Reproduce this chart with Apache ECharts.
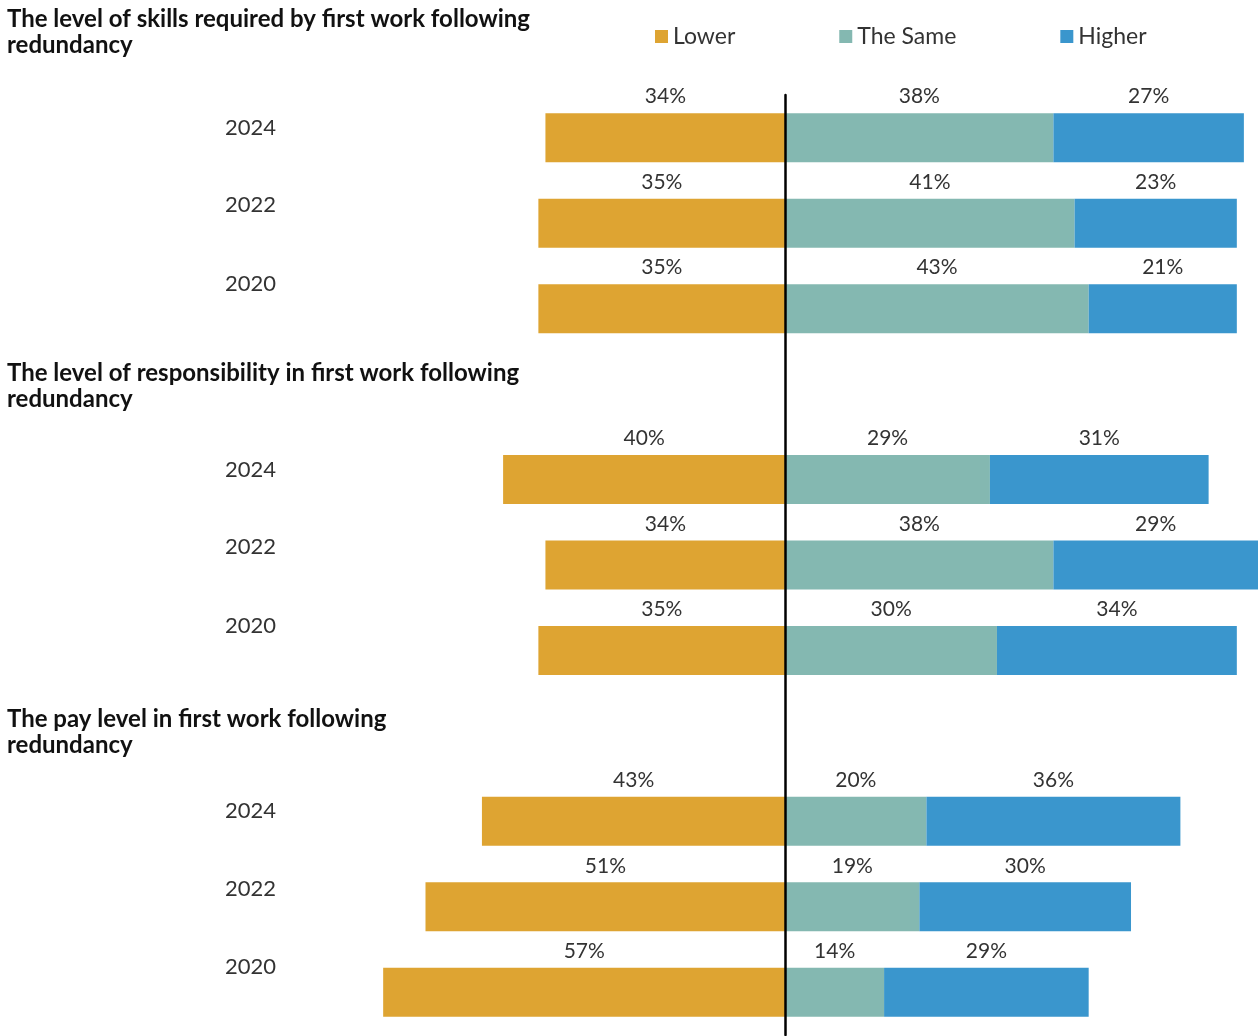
<!DOCTYPE html>
<html>
<head>
<meta charset="utf-8">
<script src="https://cdn.jsdelivr.net/npm/echarts@6/dist/echarts.min.js"></script>
<style>
  html, body { margin: 0; padding: 0; background: #ffffff; }
  #chart { width: 1258px; height: 1036px; }
</style>
</head>
<body>
<div id="chart"></div>
<script>
// Survey years, shown top to bottom in each block
const years = ['2024', '2022', '2020'];

// Block headings
const sectionTitles = [
  'The level of skills required by first work following\nredundancy',
  'The level of responsibility in first work following\nredundancy',
  'The pay level in first work following\nredundancy'
];

const seriesNames = ['Lower', 'The Same', 'Higher'];

// Skills required (2024, 2022, 2020)
const skillsLower  = [34, 35, 35];
const skillsSame   = [38, 41, 43];
const skillsHigher = [27, 23, 21];

// Responsibility (2024, 2022, 2020)
const respLower  = [40, 34, 35];
const respSame   = [29, 38, 30];
const respHigher = [31, 29, 34];

// Pay level (2024, 2022, 2020)
const payLower  = [43, 51, 57];
const paySame   = [20, 19, 14];
const payHigher = [36, 30, 29];

const sections = [
  { key: 'skills', lower: skillsLower, same: skillsSame, higher: skillsHigher },
  { key: 'resp',   lower: respLower,   same: respSame,   higher: respHigher },
  { key: 'pay',    lower: payLower,    same: paySame,    higher: payHigher }
];

// One category per bar row, with an empty spacer row between blocks
const categories = [];
const lowerData = [], sameData = [], higherData = [];
sections.forEach((s, si) => {
  if (si > 0) {
    categories.push('gap' + si);
    lowerData.push('-'); sameData.push('-'); higherData.push('-');
  }
  years.forEach((y, yi) => {
    categories.push(s.key + '|' + y);
    lowerData.push(-s.lower[yi]);
    sameData.push(s.same[yi]);
    higherData.push(s.higher[yi]);
  });
});

const colors = ['#DEA432', '#84B8B1', '#3A96CD'];
const FONT = 'Lato, "Noto Sans", sans-serif';
const TEXT = '#333333';

const chart = echarts.init(document.getElementById('chart'), null, { renderer: 'canvas' });

const barLabel = {
  show: true,
  position: 'top',
  distance: 6,
  color: TEXT,
  fontFamily: FONT,
  fontSize: 21,
  formatter: p => Math.abs(p.value) + '%'
};

// Year labels sit a little above their bar centre, more so further down a block
const yearLift = [10, 18, 25];
const yearRich = {};
yearLift.forEach((d, i) => {
  yearRich['r' + i] = { fontFamily: FONT, fontSize: 22, color: TEXT, padding: [0, 0, 2 * d, 0] };
});

const option = {
  backgroundColor: '#ffffff',
  animation: false,
  color: colors,
  title: sectionTitles.map((t, i) => ({
    text: t,
    left: 2,
    top: [1, 355, 701][i],
    textStyle: { fontFamily: FONT, fontWeight: 'bold', fontSize: 24, lineHeight: 26, color: '#111111' }
  })),
  legend: {
    data: seriesNames,
    left: 650,
    top: 20,
    icon: 'rect',
    itemWidth: 13,
    itemHeight: 13,
    itemGap: 104,
    textStyle: { fontFamily: FONT, fontSize: 23, color: TEXT }
  },
  grid: { left: 362, width: 900, top: 95, height: 940 },
  xAxis: {
    type: 'value',
    min: -60,
    max: 67,
    show: false
  },
  yAxis: {
    type: 'category',
    inverse: true,
    data: categories,
    z: 10,
    axisLine: { show: true, onZero: true, lineStyle: { color: '#000000', width: 2.5 } },
    axisTick: { show: false },
    axisLabel: {
      margin: 86,
      formatter: (val) => {
        if (val.indexOf('|') < 0) return '';
        const y = val.split('|')[1];
        return '{r' + years.indexOf(y) + '|' + y + '}';
      },
      rich: yearRich
    },
    splitLine: { show: false }
  },
  series: [
    { name: seriesNames[0], type: 'bar', stack: 'total', barWidth: 49, data: lowerData, label: barLabel },
    { name: seriesNames[1], type: 'bar', stack: 'total', barWidth: 49, data: sameData, label: barLabel },
    { name: seriesNames[2], type: 'bar', stack: 'total', barWidth: 49, data: higherData, label: barLabel }
  ]
};

chart.setOption(option);
</script>
</body>
</html>
